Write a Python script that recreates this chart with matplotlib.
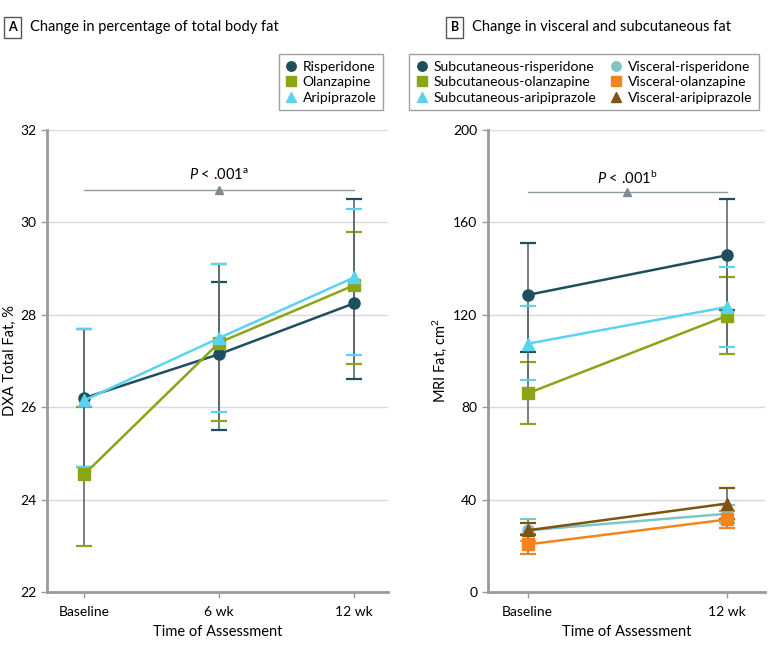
import matplotlib.pyplot as plt

plt.rcParams['font.family'] = ['Lato', 'DejaVu Sans']
plt.rcParams['mathtext.fontset'] = 'custom'
plt.rcParams['mathtext.it'] = 'Lato:italic'
plt.rcParams['mathtext.rm'] = 'Lato'

# panel A data: DXA total fat, %
weeks_a = ['Baseline', '6 wk', '12 wk']
risp_a = [26.2, 27.15, 28.25]
risp_a_lo = [24.7, 25.5, 26.6]
risp_a_hi = [27.7, 28.7, 30.5]
olan_a = [24.55, 27.4, 28.64]
olan_a_lo = [23.0, 25.7, 26.93]
olan_a_hi = [26.0, 29.1, 29.8]
arip_a = [26.15, 27.5, 28.81]
arip_a_lo = [24.7, 25.9, 27.13]
arip_a_hi = [27.7, 29.1, 30.3]

# panel B data: MRI fat, cm2
weeks_b = ['Baseline', '12 wk']
sub_risp = [128.6, 145.8]
sub_risp_lo = [104, 122]
sub_risp_hi = [151, 170]
sub_olan = [86, 119.6]
sub_olan_lo = [72.7, 103]
sub_olan_hi = [99.4, 136.3]
sub_arip = [107.5, 123.4]
sub_arip_lo = [91.6, 106]
sub_arip_hi = [124, 140.6]
vis_risp = [26.7, 33.9]
vis_risp_lo = [22.0, 30.0]
vis_risp_hi = [31.4, 37.5]
vis_olan = [20.6, 31.4]
vis_olan_lo = [16.3, 27.5]
vis_olan_hi = [25.0, 35.0]
vis_arip = [26.7, 38.3]
vis_arip_lo = [24.5, 31.5]
vis_arip_hi = [29.7, 45.2]

C_RISP = '#1d4f5e'
C_OLAN = '#8aa615'
C_ARIP = '#5ad3f0'
C_VRISP = '#7fc4c6'
C_VOLAN = '#f5841f'
C_VARIP = '#7d5411'
GRID = '#d9d9d9'
AXC = '#9a9a9a'
BAR = '#5d6a70'

fig = plt.figure(figsize=(7.83, 6.5), dpi=100)
axA = fig.add_axes([0.0595, 0.0892, 0.436, 0.7108])
axB = fig.add_axes([0.623, 0.0892, 0.354, 0.7108])


def style(ax):
    for s in ['top', 'right']:
        ax.spines[s].set_visible(False)
    for s in ['left', 'bottom']:
        ax.spines[s].set_color(AXC)
        ax.spines[s].set_linewidth(2)
    ax.tick_params(axis='both', colors=AXC, labelcolor='black', labelsize=10, length=4, width=1)
    ax.tick_params(axis='x', pad=6)
    ax.yaxis.grid(True, color=GRID, linewidth=1)
    ax.set_axisbelow(True)


def series(ax, x, y, lo, hi, color, marker, label, ms=8):
    yerr = [[v - l for v, l in zip(y, lo)], [h - v for v, h in zip(y, hi)]]
    eb = ax.errorbar(x, y, yerr=yerr, fmt='none', ecolor=color, elinewidth=1.2,
                     capsize=6, capthick=1.6, zorder=2)
    for bc in eb[2]:
        bc.set_color(BAR)
    ax.plot(x, y, color=color, lw=1.8, marker=marker, ms=ms, label=label, zorder=3)


def bracket(ax, x0, x1, y, ytext, text):
    ax.plot([x0, x1], [y, y], color='#8c9aa0', lw=1, zorder=1)
    ax.plot([(x0 + x1) / 2], [y], marker='^', color='#7f8b90', ms=6, zorder=1)
    ax.text((x0 + x1) / 2, ytext, text, ha='center', va='bottom', fontsize=10.5)


# panel A
xa = list(range(len(weeks_a)))
series(axA, xa, risp_a, risp_a_lo, risp_a_hi, C_RISP, 'o', 'Risperidone')
series(axA, xa, olan_a, olan_a_lo, olan_a_hi, C_OLAN, 's', 'Olanzapine')
series(axA, xa, arip_a, arip_a_lo, arip_a_hi, C_ARIP, '^', 'Aripiprazole')
axA.set_xlim(-0.28, 2.25)
axA.set_ylim(22, 32)
axA.set_yticks([22, 24, 26, 28, 30, 32])
axA.set_xticks(xa)
axA.set_xticklabels(weeks_a)
axA.set_xlabel('Time of Assessment', fontsize=10.5, labelpad=5)
axA.set_ylabel('DXA Total Fat, %', fontsize=10.5, labelpad=2)
style(axA)
bracket(axA, 0, 2, 30.7, 30.85, r'$P$ < .001$^{\mathrm{a}}$')
legA = fig.legend(*axA.get_legend_handles_labels(), loc='upper right',
                  bbox_to_anchor=(0.498, 0.927), frameon=True,
                  fancybox=False, edgecolor='#888888', fontsize=10, markerscale=0.85,
                  handlelength=0.9, handletextpad=0.4, borderpad=0.45, labelspacing=0.25)
legA.get_frame().set_linewidth(1)
for h in legA.legend_handles:
    h.set_linestyle('none')

# panel B
xb = list(range(len(weeks_b)))
series(axB, xb, vis_risp, vis_risp_lo, vis_risp_hi, C_VRISP, 'o', 'Visceral-risperidone')
series(axB, xb, vis_olan, vis_olan_lo, vis_olan_hi, C_VOLAN, 's', 'Visceral-olanzapine')
series(axB, xb, vis_arip, vis_arip_lo, vis_arip_hi, C_VARIP, '^', 'Visceral-aripiprazole')
series(axB, xb, sub_risp, sub_risp_lo, sub_risp_hi, C_RISP, 'o', 'Subcutaneous-risperidone')
series(axB, xb, sub_olan, sub_olan_lo, sub_olan_hi, C_OLAN, 's', 'Subcutaneous-olanzapine')
series(axB, xb, sub_arip, sub_arip_lo, sub_arip_hi, C_ARIP, '^', 'Subcutaneous-aripiprazole')
axB.set_xlim(-0.2, 1.19)
axB.set_ylim(0, 200)
axB.set_yticks([0, 40, 80, 120, 160, 200])
axB.set_xticks(xb)
axB.set_xticklabels(weeks_b)
axB.set_xlabel('Time of Assessment', fontsize=10.5, labelpad=5)
axB.set_ylabel('MRI Fat, cm$^{\\mathrm{2}}$', fontsize=10.5, labelpad=3)
style(axB)
bracket(axB, 0, 1, 173.3, 175.5, r'$P$ < .001$^{\mathrm{b}}$')
handles, labels = axB.get_legend_handles_labels()
order = [3, 4, 5, 0, 1, 2]
legB = fig.legend([handles[i] for i in order], [labels[i] for i in order],
                  loc='upper right', bbox_to_anchor=(0.978, 0.927),
                  ncol=2, frameon=True, markerscale=0.85,
                  fancybox=False, edgecolor='#888888', fontsize=10,
                  handlelength=0.9, handletextpad=0.4, borderpad=0.45,
                  labelspacing=0.25, columnspacing=1.0)
legB.get_frame().set_linewidth(1)
for h in legB.legend_handles:
    h.set_linestyle('none')

# panel titles with boxed letters
for xl, letter, xt, title in [(0.016, 'A', 0.038, 'Change in percentage of total body fat'),
                              (0.581, 'B', 0.603, 'Change in visceral and subcutaneous fat')]:
    fig.text(xl, 0.958, letter, fontsize=9, fontweight='bold', ha='center', va='center',
             bbox=dict(boxstyle='square,pad=0.35', fc='white', ec='#555555', lw=1))
    fig.text(xt, 0.958, title, fontsize=10.5, ha='left', va='center')

fig.savefig('out.png', dpi=100)
